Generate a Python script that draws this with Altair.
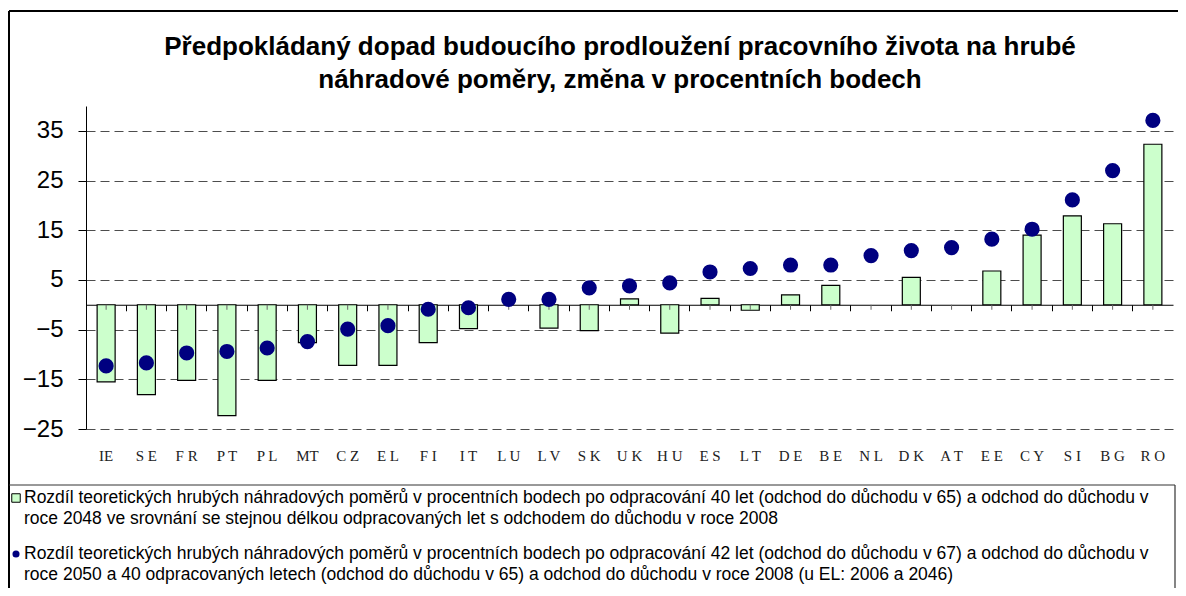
import altair as alt
import pandas as pd

countries = ["IE", "SE", "FR", "PT", "PL", "MT", "CZ", "EL", "FI", "IT", "LU", "LV", "SK", "UK",
             "HU", "ES", "LT", "DE", "BE", "NL", "DK", "AT", "EE", "CY", "SI", "BG", "RO"]
bars_40 = [-15.5, -18.1, -15.2, -22.3, -15.2, -7.6, -12.2, -12.2, -7.6, -4.8, None, -4.7, -5.2, 1.2,
           -5.7, 1.3, -1.1, 2.0, 3.9, None, 5.5, None, 6.8, 14.0, 17.9, 16.3, 32.3]
dots_42 = [-12.3, -11.7, -9.7, -9.4, -8.7, -7.4, -4.9, -4.2, -0.9, -0.6, 1.1, 1.1, 3.4, 3.8,
           4.4, 6.6, 7.3, 8.0, 8.0, 9.9, 10.9, 11.5, 13.2, 15.2, 21.1, 27.0, 37.1]
y_ticks = [-25, -15, -5, 5, 15, 25, 35]

title_lines = ["Předpokládaný dopad budoucího prodloužení pracovního života na hrubé",
               "náhradové poměry, změna v procentních bodech"]
legend_1 = ["Rozdíl teoretických hrubých náhradových poměrů v procentních bodech po odpracování 40 let (odchod do důchodu v 65) a odchod do důchodu v",
            "roce 2048 ve srovnání se stejnou délkou odpracovaných let s odchodem do důchodu v roce 2008"]
legend_2 = ["Rozdíl teoretických hrubých náhradových poměrů v procentních bodech po odpracování 42 let (odchod do důchodu v 67) a odchod do důchodu v",
            "roce 2050 a 40 odpracovaných letech (odchod do důchodu v 65) a odchod do důchodu v roce 2008 (u EL: 2006 a 2046)"]

W, H = 1087, 323
Y_DOMAIN = [-25, 40]
ZERO_PX = H * Y_DOMAIN[1] / (Y_DOMAIN[1] - Y_DOMAIN[0])

df = pd.DataFrame({"country": countries, "bar": bars_40, "dot": dots_42})
one = pd.DataFrame({"k": [0]})

SANS = "Liberation Sans"
SERIF = "Liberation Serif"

x_scale = alt.Scale(domain=countries, paddingInner=0, paddingOuter=0)
y_scale = alt.Scale(domain=Y_DOMAIN, nice=False, zero=False)
y_axis = alt.Axis(values=y_ticks, title=None, labelFont=SANS, labelFontSize=24, labelColor="black",
                  labelPadding=15, tickSize=8, tickColor="black", domainColor="black",
                  grid=True, gridDash=[9, 5], gridColor="#4d4d4d", gridWidth=1)

label_expr = ("(datum.label == 'IE' || datum.label == 'MT') ? datum.label : "
              "join(split(datum.label, ''), ' ')")

bars = alt.Chart(df).mark_bar(width=18, fill="#CCFFCC", stroke="black", strokeWidth=1.2).encode(
    x=alt.X("country:N", scale=x_scale, sort=countries,
            axis=alt.Axis(orient="bottom", title=None, labelAngle=0, labelFont=SERIF, labelFontSize=15,
                          labelColor="#222222", labelPadding=19, domain=False, ticks=False,
                          tickSize=0, grid=False, labelExpr=label_expr)),
    y=alt.Y("bar:Q", scale=y_scale, axis=y_axis),
)

dots = alt.Chart(df).mark_circle(size=230, color="#000080", opacity=1).encode(
    x=alt.X("country:N", scale=x_scale, sort=countries,
            axis=alt.Axis(orient="bottom", title=None, labels=False, domain=True, domainColor="black",
                          domainWidth=1.2, ticks=True, tickColor="black", tickSize=6,
                          bandPosition=0, grid=False, offset=-(H - ZERO_PX))),
    y=alt.Y("dot:Q", scale=y_scale, axis=y_axis),
)

center_ticks = alt.Chart(df).mark_rule(color="#666666", strokeWidth=1).encode(
    x=alt.X("country:N", scale=x_scale, sort=countries, axis=None),
    y=alt.value(ZERO_PX),
    y2=alt.value(ZERO_PX + 5),
)

title = alt.Chart(one).mark_text(text=title_lines, font=SANS, fontSize=26, fontWeight="bold",
                                 lineHeight=33, align="center", baseline="middle", color="black").encode(
    x=alt.value(534), y=alt.value(-59))

leg_text1 = alt.Chart(one).mark_text(text=legend_1, font=SANS, fontSize=17.5, lineHeight=21,
                                     align="left", baseline="middle", color="black").encode(
    x=alt.value(-62), y=alt.value(392))
leg_text2 = alt.Chart(one).mark_text(text=legend_2, font=SANS, fontSize=17.5, lineHeight=21,
                                     align="left", baseline="middle", color="black").encode(
    x=alt.value(-62), y=alt.value(448))
leg_sym1 = alt.Chart(one).mark_square(size=72, fill="#CCFFCC", stroke="black", strokeWidth=1,
                                      opacity=1).encode(x=alt.value(-70), y=alt.value(392))
leg_sym2 = alt.Chart(one).mark_circle(size=50, color="#000080", opacity=1).encode(
    x=alt.value(-70), y=alt.value(448))

frame_top = alt.Chart(one).mark_rule(color="black", strokeWidth=2).encode(
    x=alt.value(-77), x2=alt.value(1100), y=alt.value(-95))
frame_left = alt.Chart(one).mark_rule(color="black", strokeWidth=2).encode(
    x=alt.value(-77), y=alt.value(-95), y2=alt.value(495))
leg_top = alt.Chart(one).mark_rule(color="#333333", strokeWidth=1).encode(
    x=alt.value(-77), x2=alt.value(1089), y=alt.value(379))
leg_right = alt.Chart(one).mark_rule(color="#333333", strokeWidth=1.2).encode(
    x=alt.value(1089), y=alt.value(379), y2=alt.value(495))

chart = alt.layer(
    bars, center_ticks, dots, title, leg_text1, leg_text2, leg_sym1, leg_sym2,
    frame_top, frame_left, leg_top, leg_right
).resolve_axis(x="independent").properties(
    width=W, height=H,
    autosize=alt.AutoSizeParams(type="none"),
    padding={"left": 78, "top": 98, "right": 5, "bottom": 159},
    background="white",
).configure_view(stroke=None)

chart.save("out.html", embed_options={"renderer": "svg", "actions": False})
